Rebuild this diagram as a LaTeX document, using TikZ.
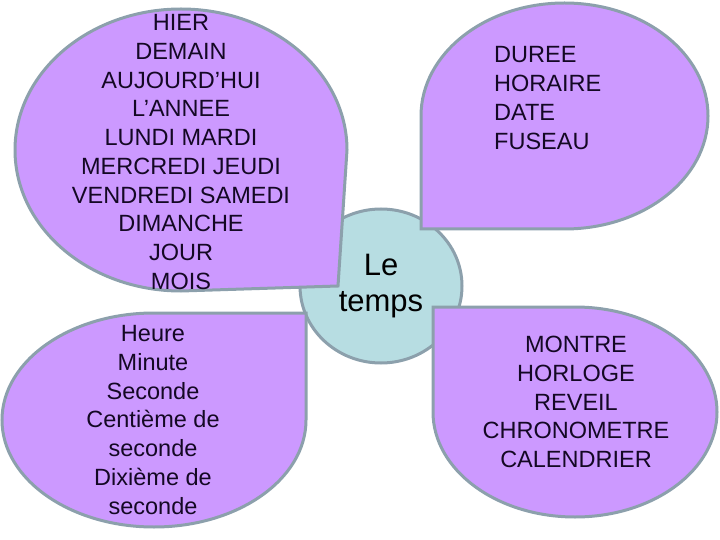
\documentclass[tikz,border=0pt]{standalone}
\usepackage{fontspec}
\setmainfont{Liberation Sans}
\usetikzlibrary{shapes.geometric}
\definecolor{petalfill}{RGB}{204,153,255}
\definecolor{edgegray}{RGB}{140,160,172}
\definecolor{corefill}{RGB}{183,221,226}
\definecolor{inkdark}{RGB}{20,8,36}
\begin{document}
\begin{tikzpicture}[
    x=1pt, y=-1pt,
    petal/.style={fill=petalfill, draw=edgegray, line width=3pt},
    core/.style={ellipse, fill=corefill, draw=edgegray, line width=3pt,
                 minimum width=162pt, minimum height=154pt, inner sep=0pt,
                 align=center, font=\fontsize{31}{36}\selectfont},
    words/.style={inner sep=0pt, align=center, text=inkdark,
                  font=\fontsize{23.5}{28.7}\selectfont},
    wordsl/.style={words, align=left, anchor=west}
  ]
  \useasboundingbox (0,0) rectangle (720,540);
  % centre
  \node[core] (temps) at (381,286) {Le\\temps};
  % petals
  \draw[petal] (338,286) -- (181,291)
    arc[start angle=90, end angle=360, x radius=166, y radius=141] -- cycle;
  \draw[petal] (421,229) -- (421,116)
    arc[start angle=180, end angle=450, x radius=143.5, y radius=113] -- cycle;
  \draw[petal] (306,313) -- (306,420)
    arc[start angle=0, end angle=270, x radius=152, y radius=107] -- cycle;
  \draw[petal] (433,307) -- (575,307)
    arc[start angle=270, end angle=540, x radius=142, y radius=105] -- cycle;
  % texts
  \node[words] (jours) at (181,152) {HIER\\DEMAIN\\AUJOURD’HUI\\L’ANNEE\\LUNDI MARDI\\%
    MERCREDI JEUDI\\VENDREDI SAMEDI\\DIMANCHE\\JOUR\\MOIS};
  \node[wordsl] (mesures) at (494,98) {DUREE\\HORAIRE\\DATE\\FUSEAU};
  \node[words] (unites) at (153,420) {Heure\\Minute\\Seconde\\Centième de\\seconde\\%
    Dixième de\\seconde};
  \node[words] (objets) at (576,402) {MONTRE\\HORLOGE\\REVEIL\\CHRONOMETRE\\CALENDRIER};
\end{tikzpicture}
\end{document}
